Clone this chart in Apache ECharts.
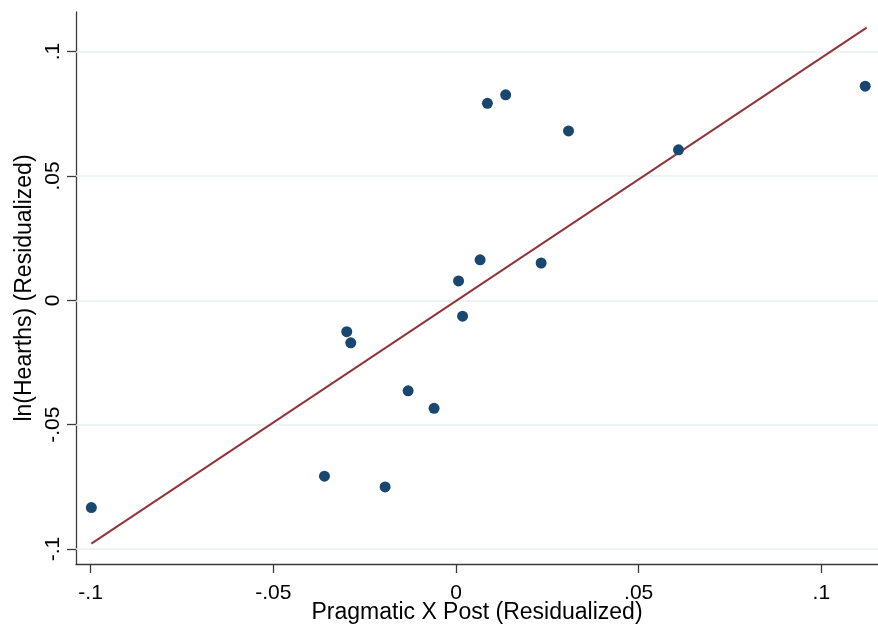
<!DOCTYPE html>
<html>
<head>
<meta charset="utf-8">
<script src="https://cdn.jsdelivr.net/npm/echarts@6/dist/echarts.min.js"></script>
<style>html,body{margin:0;padding:0;background:#fff}#c{width:878px;height:629px}</style>
</head>
<body>
<div id="c"></div>
<script>
var xValues = [-0.0998, -0.0360, -0.0299, -0.0288, -0.0194, -0.0131, -0.0060, 0.0007, 0.0018, 0.0066, 0.0086, 0.0136, 0.0233, 0.0308, 0.0609, 0.1120];
var yValues = [-0.0833, -0.0707, -0.0126, -0.0171, -0.0750, -0.0364, -0.0434, 0.0078, -0.0064, 0.0163, 0.0792, 0.0826, 0.0150, 0.0681, 0.0605, 0.0861];
var fitX = [-0.0998, 0.1124];
var fitY = [-0.0978, 0.1096];
var xTicks = [-0.1, -0.05, 0, 0.05, 0.1];
var yTicks = [-0.1, -0.05, 0, 0.05, 0.1];
var xTickLabels = ['-.1', '-.05', '0', '.05', '.1'];
var yTickLabels = ['-.1', '-.05', '0', '.05', '.1'];
var xTitle = 'Pragmatic X Post (Residualized)';
var yTitle = 'ln(Hearths) (Residualized)';

function fmt(ticks, labels) {
  return function (v) {
    for (var i = 0; i < ticks.length; i++) {
      if (Math.abs(ticks[i] - v) < 1e-9) return labels[i];
    }
    return '';
  };
}

var points = xValues.map(function (x, i) { return [x, yValues[i]]; });
var fit = fitX.map(function (x, i) { return [x, fitY[i]]; });
var font = 'Liberation Sans, Arial, sans-serif';
var axisColor = '#3a3a3a';

var chart = echarts.init(document.getElementById('c'), null, {renderer: 'canvas'});
chart.setOption({
  animation: false,
  backgroundColor: '#ffffff',
  grid: {left: 76, right: 0, top: 12, bottom: 65, containLabel: false, outerBoundsMode: 'none'},
  xAxis: {
    type: 'value',
    min: -0.104, max: 0.1155,
    name: xTitle, nameLocation: 'middle', nameGap: 37, nameMoveOverlap: false,
    nameTextStyle: {fontFamily: font, fontSize: 23, color: '#000'},
    axisLine: {show: true, onZero: false, lineStyle: {color: axisColor, width: 1.3}},
    axisTick: {show: true, customValues: xTicks, length: 9, lineStyle: {color: axisColor, width: 1.3}},
    axisLabel: {customValues: xTicks, formatter: fmt(xTicks, xTickLabels), fontFamily: font, fontSize: 21, color: '#000', margin: 19},
    splitLine: {show: false}
  },
  yAxis: {
    type: 'value',
    min: -0.106, max: 0.1159,
    name: yTitle, nameLocation: 'middle', nameGap: 40, nameMoveOverlap: false,
    nameTextStyle: {fontFamily: font, fontSize: 23, color: '#000'},
    axisLine: {show: true, onZero: false, lineStyle: {color: axisColor, width: 1.3}},
    axisTick: {show: true, customValues: yTicks, length: 9, lineStyle: {color: axisColor, width: 1.3}},
    axisLabel: {customValues: yTicks, formatter: fmt(yTicks, yTickLabels), rotate: 90, fontFamily: font, fontSize: 21, color: '#000', margin: 12},
    splitLine: {show: false}
  },
  series: [
    {
      type: 'scatter', data: [], z: 1, silent: true,
      markLine: {
        silent: true, symbol: ['none', 'none'], animation: false, z: 1,
        label: {show: false},
        lineStyle: {color: '#e8f0f2', width: 1.6, type: 'solid'},
        data: yTicks.map(function (v) { return {yAxis: v}; })
      }
    },
    {
      type: 'line', data: fit, z: 3, symbol: 'none', silent: true,
      lineStyle: {color: '#90353b', width: 2}
    },
    {
      type: 'scatter', data: points, z: 4, symbol: 'circle', symbolSize: 11,
      itemStyle: {color: '#1a476f', opacity: 1}
    }
  ]
});
</script>
</body>
</html>
